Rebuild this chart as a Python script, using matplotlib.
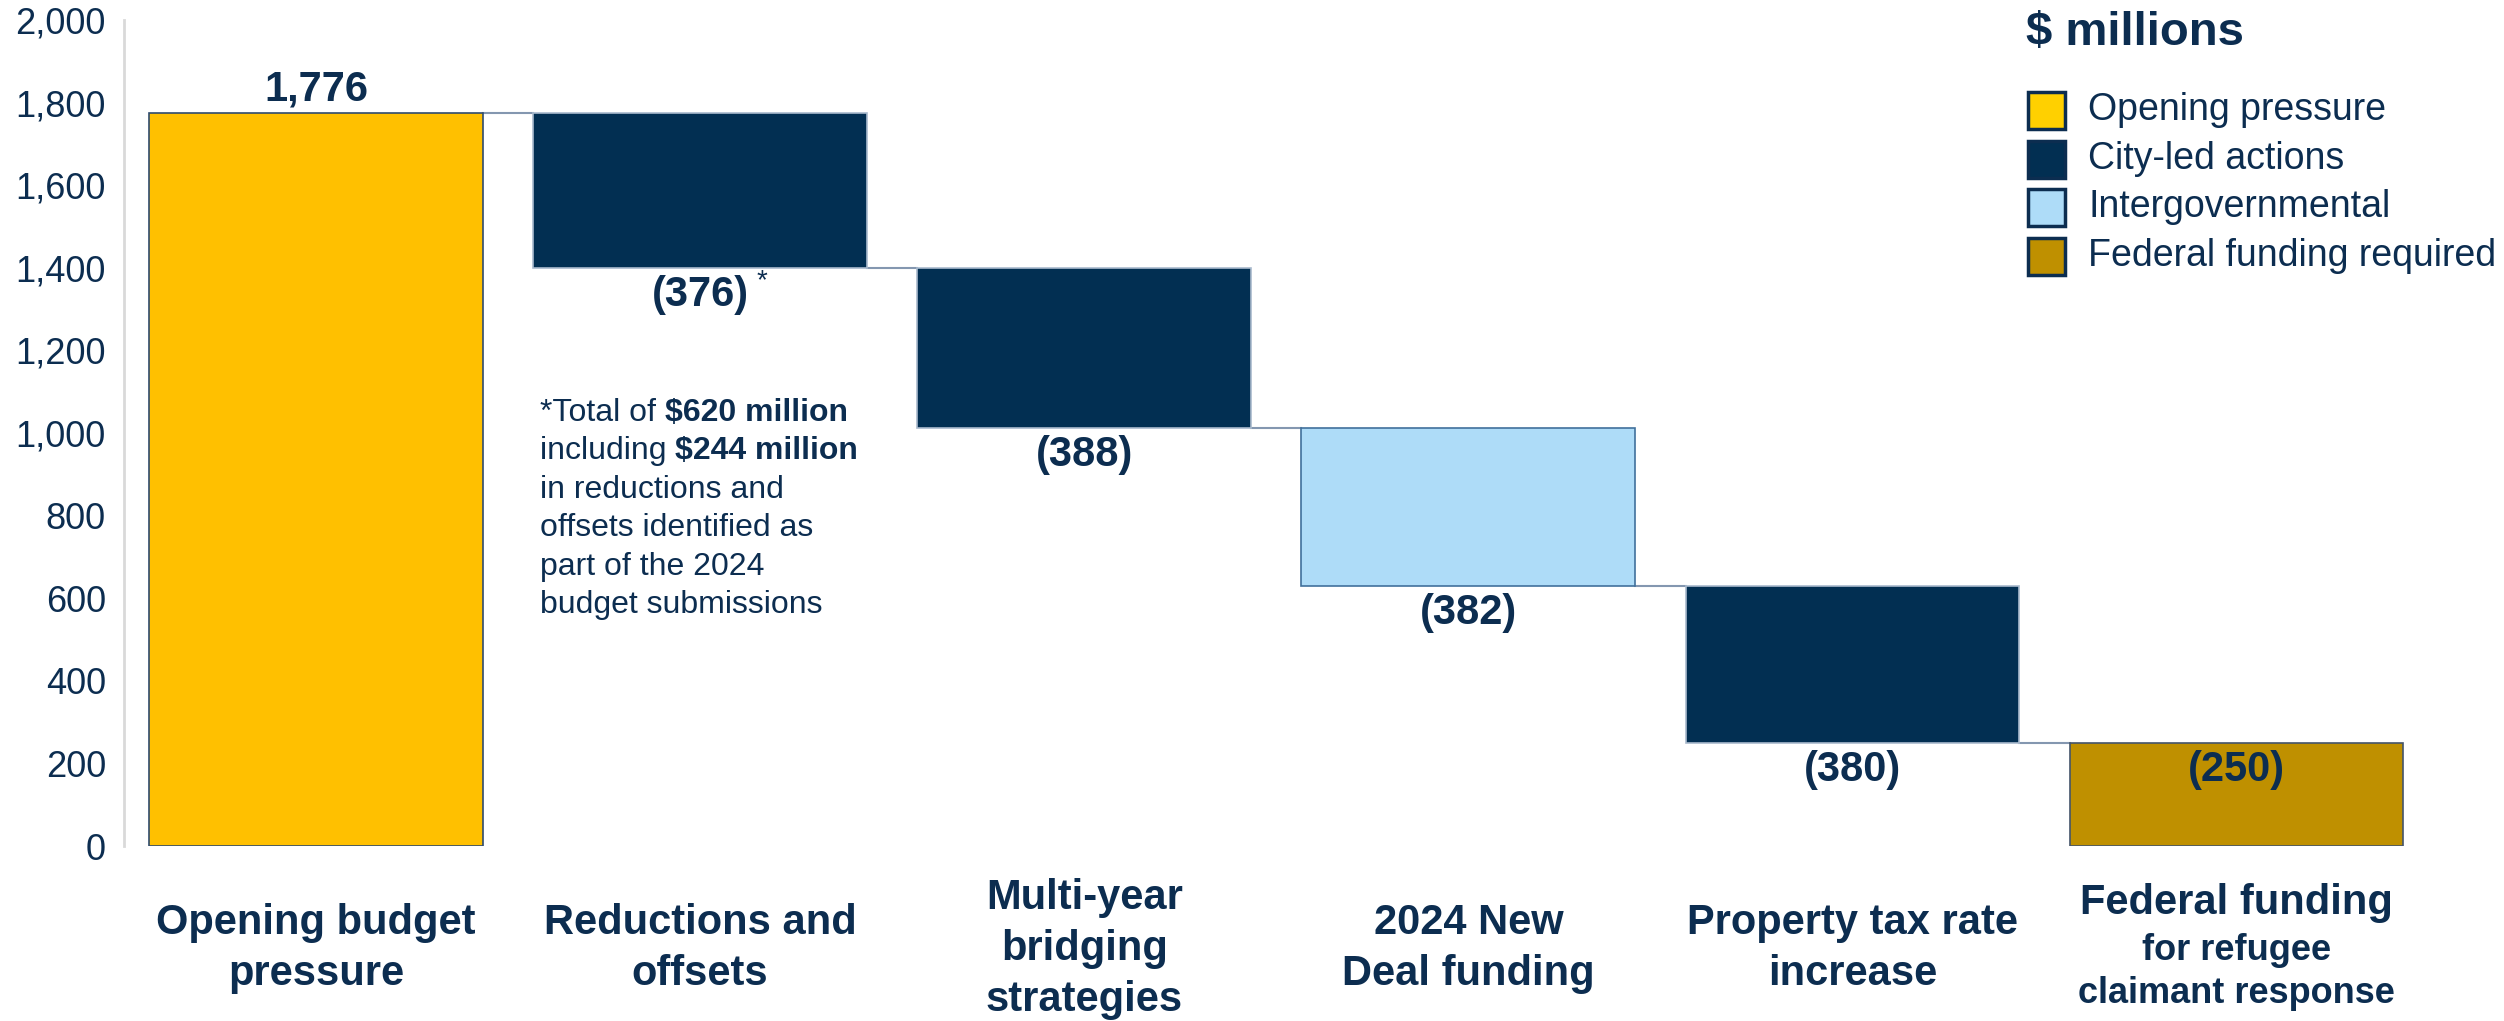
import numpy as np
import matplotlib
matplotlib.use("Agg")
import matplotlib.pyplot as plt
from matplotlib import transforms
from matplotlib.patches import Rectangle

plt.rcParams['font.family'] = ['Liberation Sans', 'DejaVu Sans']

categories = ['Opening budget\npressure', 'Reductions and\noffsets',
              'Multi-year\nbridging\nstrategies', '2024 New\nDeal funding',
              'Property tax rate\nincrease', 'Federal funding']
last_sub = 'for refugee\nclaimant response'
values = [1776, -376, -388, -382, -380, -250]
value_labels = ['1,776', '(376)', '(388)', '(382)', '(380)', '(250)']
groups = ['Opening pressure', 'City-led actions', 'City-led actions',
          'Intergovernmental', 'City-led actions', 'Federal funding required']
legend_names = ['Opening pressure', 'City-led actions', 'Intergovernmental',
                'Federal funding required']
yticks = list(range(0, 2001, 200))
note_lines = [[('*Total of ', 'normal'), ('$620 million', 'bold')],
              [('including ', 'normal'), ('$244 million', 'bold')],
              [('in reductions and', 'normal')],
              [('offsets identified as', 'normal')],
              [('part of the 2024', 'normal')],
              [('budget submissions', 'normal')]]

TXT = '#0C2D50'
fill = {'Opening pressure': '#FFC000', 'City-led actions': '#022F52',
        'Intergovernmental': '#AEDCF8', 'Federal funding required': '#BF9000'}
edge = {'Opening pressure': '#2F4B6E', 'City-led actions': '#A9BACD',
        'Intergovernmental': '#41719C', 'Federal funding required': '#44546A'}
swatch = {'Opening pressure': '#FFD000', 'City-led actions': '#022F52',
          'Intergovernmental': '#AEDCF8', 'Federal funding required': '#BF9000'}

W, H = 2504, 1021
fig = plt.figure(figsize=(W / 100, H / 100), dpi=100)
ax = fig.add_axes([124 / W, 175 / H, 2304.6 / W, 826 / H])

x = np.arange(len(values))
after = np.cumsum(values)
before = np.concatenate([[0], after[:-1]])
bottoms = np.minimum(before, after)
heights = np.abs(values)
bw = 0.869

for i in x:
    g = groups[i]
    ax.bar(i, heights[i], bottom=bottoms[i], width=bw, color=fill[g],
           edgecolor=edge[g], linewidth=1.2, zorder=3)
    if i < len(values) - 1:
        ax.plot([i + bw / 2, i + 1 - bw / 2], [after[i], after[i]],
                color='#8497B0', lw=1.5, zorder=2)

px = 0.72  # points per pixel at 100 dpi
for i in x:
    if values[i] > 0:
        ax.annotate(value_labels[i], (i, after[i]), xytext=(0, 23 * px),
                    textcoords='offset points', ha='center', va='center',
                    fontsize=30, fontweight='bold', color=TXT, zorder=5)
    else:
        anchor = after[i] if after[i] > 0 else before[i]
        ax.annotate(value_labels[i], (i, anchor), xytext=(0, -27 * px),
                    textcoords='offset points', ha='center', va='center',
                    fontsize=30, fontweight='bold', color=TXT, zorder=5)
ax.annotate('*', (1, after[1]), xytext=(62 * px, -13 * px),
            textcoords='offset points', ha='center', va='center',
            fontsize=20, color=TXT)

ax.set_xlim(-0.5, len(values) - 0.5)
ax.set_ylim(0, 2000)
ax.set_yticks(yticks)
ax.set_yticklabels([f'{v:,}' for v in yticks])
ax.tick_params(axis='y', length=0, pad=13, labelsize=26, labelcolor=TXT)
ax.set_xticks([])
for s in ['top', 'right', 'bottom']:
    ax.spines[s].set_visible(False)
ax.spines['left'].set_color('#D9D9D9')
ax.spines['left'].set_linewidth(2)

xt = ax.get_xaxis_transform()
for i, lab in enumerate(categories[:-1]):
    ax.text(i, -0.1245, lab, transform=xt, ha='center', va='center',
            fontsize=30, fontweight='bold', color=TXT, linespacing=1.35,
            multialignment='center')
n = len(values) - 1
ax.text(n, -0.069, categories[-1], transform=xt, ha='center', va='center',
        fontsize=30, fontweight='bold', color=TXT)
ax.text(n, -0.153, last_sub, transform=xt, ha='center', va='center',
        fontsize=26, fontweight='bold', color=TXT, linespacing=1.3,
        multialignment='center')

# footnote with bold runs
renderer = fig.canvas.get_renderer()
for k, parts in enumerate(note_lines):
    ypx = 410 + 38.4 * k + 11
    tr = fig.transFigure
    for s, w in parts:
        t = fig.text(540 / W, 1 - ypx / H, s, transform=tr, fontsize=23,
                     fontweight=w, color=TXT, va='baseline', ha='left')
        t.draw(renderer)
        ex = t.get_window_extent(renderer)
        tr = transforms.offset_copy(t.get_transform(), fig=fig, x=ex.width,
                                    units='dots')

# legend
fig.text(2026 / W, 1 - 33 / H, '$ millions', fontsize=34, fontweight='bold',
         color=TXT, ha='left', va='center')
rows = [110, 159, 207, 256]
for name, yc in zip(legend_names, rows):
    fig.patches.append(Rectangle((2028 / W, 1 - (yc + 19) / H), 37 / W, 37 / H,
                                 transform=fig.transFigure, facecolor=swatch[name],
                                 edgecolor='#0C2D50', linewidth=2.5))
    fig.text(2088 / W, 1 - yc / H, name, fontsize=27, color=TXT,
             ha='left', va='center')

fig.savefig('out.png', dpi=100, facecolor='white')
